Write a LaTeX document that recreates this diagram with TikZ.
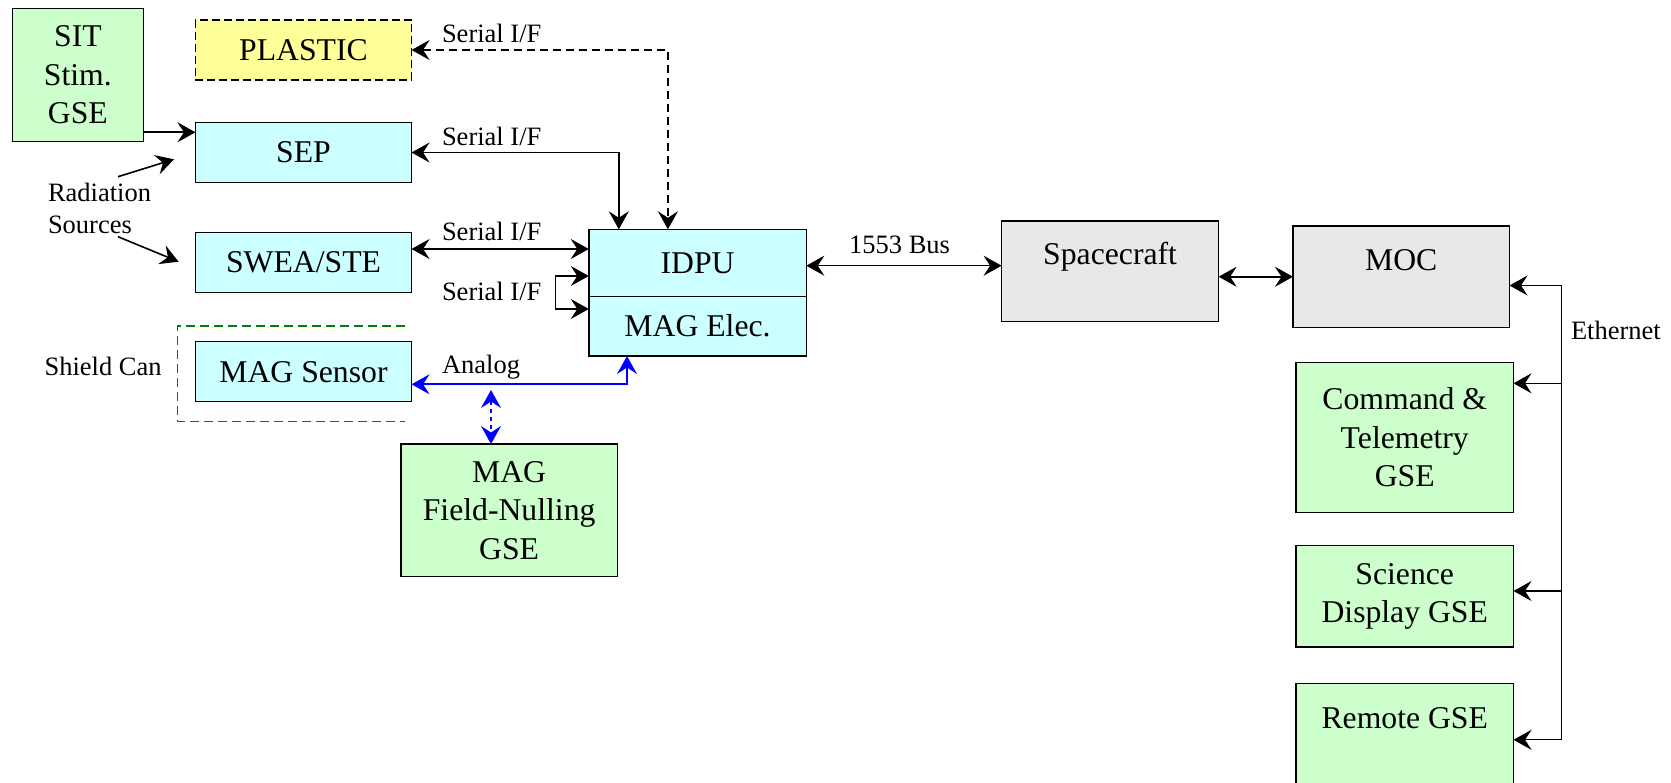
\documentclass[tikz,border=0pt]{standalone}
\usepackage{fontspec}
\setmainfont{Liberation Serif}
\usetikzlibrary{arrows.meta,calc}
\definecolor{cyanfill}{HTML}{CCFFFF}
\definecolor{greenfill}{HTML}{CCFFCC}
\definecolor{greyfill}{HTML}{E8E8E8}
\definecolor{yellowfill}{HTML}{FFFF99}
\definecolor{shieldgreen}{HTML}{008000}
\newcommand\bigtxt{\fontsize{31.7}{38.4}\selectfont}
\newcommand\smalltxt{\fontsize{26.5}{31.5}\selectfont}
\begin{document}
\begin{tikzpicture}[x=1pt,y=-1pt,
  boxbase/.style={draw=black, line width=1.5pt, inner sep=0pt, outer sep=0pt, align=center, font=\bigtxt},
  cyanbox/.style={boxbase, fill=cyanfill},
  greenbox/.style={boxbase, fill=greenfill},
  greybox/.style={boxbase, fill=greyfill},
  yellowbox/.style={boxbase, fill=yellowfill, dash pattern=on 8pt off 4pt},
  lbl/.style={inner sep=0pt, outer sep=0pt, font=\smalltxt},
  txt/.style={inner sep=0pt, outer sep=0pt, font=\bigtxt, align=center},
  conn/.style={line width=1.6pt, draw=black},
  thinconn/.style={line width=1.2pt, draw=black},
  dconn/.style={conn, dash pattern=on 8pt off 5pt},
  bconn/.style={line width=1.6pt, draw=blue},
  bdconn/.style={bconn, dash pattern=on 4pt off 4pt},
  shield/.style={line width=1.3pt, draw=shieldgreen, dash pattern=on 9pt off 5pt},
  oneway/.style={-{Stealth[length=18pt,width=20pt,inset=6.5pt]}},
  twoway/.style={{Stealth[length=18pt,width=20pt,inset=6.5pt]}-{Stealth[length=18pt,width=20pt,inset=6.5pt]}}]
\useasboundingbox (0,0) rectangle (1671,783);
\clip (0,0) rectangle (1671,783);

% boxes
\node[greenbox, minimum width=130.8pt, minimum height=133.4pt] (sit) at (77.9,75) {SIT\\Stim.\\GSE};
\node[yellowbox, minimum width=216.1pt, minimum height=60pt] (plastic) at (303.5,50) {PLASTIC};
\node[cyanbox, minimum width=216.1pt, minimum height=60.4pt] (sep) at (303.5,152.5) {SEP};
\node[cyanbox, minimum width=216.1pt, minimum height=60pt] (swea) at (303.5,262.3) {SWEA/STE};
\node[cyanbox, minimum width=216.1pt, minimum height=60pt] (magsens) at (303.5,371.7) {MAG Sensor};
\node[cyanbox, minimum width=217.5pt, minimum height=67pt] (idpu) at (697.55,262.8) {IDPU};
\node[cyanbox, minimum width=217.5pt, minimum height=59.7pt] (magel) at (697.55,326.15) {MAG Elec.};
\node[greenbox, minimum width=216.5pt, minimum height=132.7pt] (nulling) at (509.15,510.35) {MAG\\Field-Nulling\\GSE};
\node[greybox, minimum width=217pt, minimum height=100.4pt] (sc) at (1110.1,271.4) {};
\node[txt] (scT) at (1110.1,256.5) {Spacecraft};
\node[greybox, minimum width=216.5pt, minimum height=101.5pt] (moc) at (1401.25,276.75) {};
\node[txt] (mocT) at (1401.25,260) {MOC};
\node[greenbox, minimum width=217.5pt, minimum height=149.8pt] (ct) at (1404.75,437.4) {Command \&\\Telemetry\\GSE};
\node[greenbox, minimum width=217.5pt, minimum height=101.1pt] (sci) at (1404.75,596.25) {Science\\Display GSE};
\node[greenbox, minimum width=217.5pt, minimum height=112pt] (rem) at (1404.75,739.3) {};
\node[txt] (remT) at (1404.75,717.7) {Remote GSE};

% shield can
\draw[shield] (405,326) -- (177.2,326) -- (177.2,421.7) -- (405,421.7);
\node[lbl, anchor=base west] (shieldL) at (44.6,376) {Shield Can};

% labels
\node[lbl, anchor=base west] (s1) at (442,42.7) {Serial I/F};
\node[lbl, anchor=base west] (s2) at (442,145.7) {Serial I/F};
\node[lbl, anchor=base west] (s3) at (442,240.7) {Serial I/F};
\node[lbl, anchor=base west] (s4) at (442,300.5) {Serial I/F};
\node[lbl, anchor=base west] (anL) at (442,374) {Analog};
\node[lbl, anchor=base] (busL) at (899.6,253.3) {1553 Bus};
\node[lbl, anchor=base west] (ethL) at (1571,340) {Ethernet};
\node[lbl, anchor=north west, align=left] (radL) at (48,183.6) {Radiation\\Sources};

% coordinates
\coordinate (plTurn) at (667.9,50);
\coordinate (sepTurn) at (618.8,152.5);
\coordinate (swP) at ($(swea.east)+(0,-13.3)$);
\coordinate (lpA) at (555.5,276);
\coordinate (lpB) at (555.5,309);
\coordinate (busP) at ($(idpu.east)+(0,2.9)$);
\coordinate (sitP) at ($(sit.south east)+(0,-9.4)$);
\coordinate (rad1S) at (118,176.7);
\coordinate (rad1E) at (174,159.3);
\coordinate (rad2S) at (118,236.7);
\coordinate (rad2E) at (178.6,261.7);
\coordinate (anP) at ($(magsens.east)+(0,12.6)$);
\coordinate (anTurn) at (627,384.3);
\coordinate (ndTop) at (491,390);
\coordinate (eTop) at (1561.3,285.5);
\coordinate (e2) at (1561.3,383.3);
\coordinate (e3) at (1561.3,591);
\coordinate (eBot) at (1561.3,739.8);

% connectors
\draw[conn,oneway] (sitP) -- (sitP -| sep.west);
\draw[conn,oneway] (rad1S) -- (rad1E);
\draw[conn,oneway] (rad2S) -- (rad2E);
\draw[dconn,twoway] (plastic.east) -- (plTurn) -- (plTurn |- idpu.north);
\draw[conn,twoway] (sep.east) -- (sepTurn) -- (sepTurn |- idpu.north);
\draw[conn,twoway] (swP) -- (swP -| idpu.west);
\draw[conn,twoway] (lpA -| idpu.west) -- (lpA) -- (lpB) -- (lpB -| magel.west);
\draw[conn,twoway] (busP) -- (busP -| sc.west);
\draw[conn,twoway] (moc.west -| sc.east) -- (moc.west);
\draw[bconn,twoway] (anP) -- (anTurn) -- (anTurn |- magel.south);
\draw[bdconn,twoway] (ndTop) -- (ndTop |- nulling.north);
\draw[thinconn] (eTop) -- (eBot);
\draw[thinconn,oneway] (eTop) -- (eTop -| moc.east);
\draw[thinconn,oneway] (e2) -- (e2 -| ct.east);
\draw[thinconn,oneway] (e3) -- (e3 -| sci.east);
\draw[thinconn,oneway] (eBot) -- (eBot -| rem.east);
\end{tikzpicture}
\end{document}
